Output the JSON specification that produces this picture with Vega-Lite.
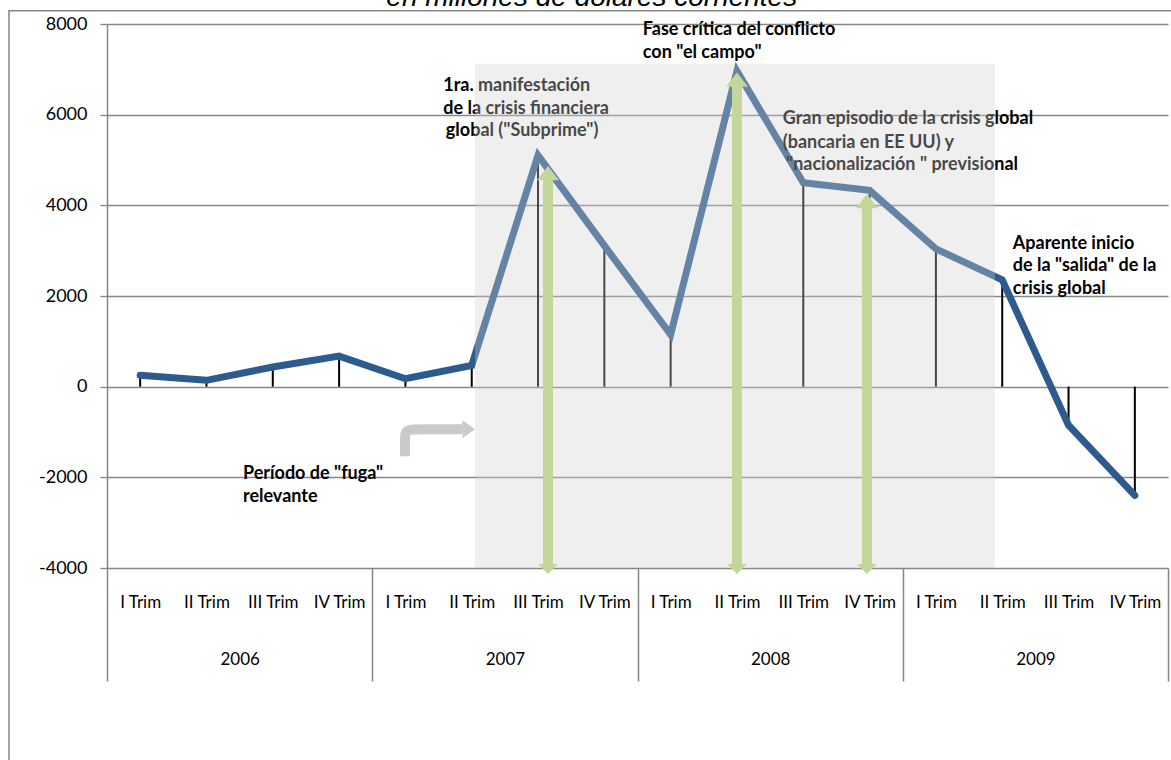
{
  "$schema": "https://vega.github.io/schema/vega-lite/v6.json",
  "width": 1061,
  "height": 544,
  "autosize": {"type": "none"},
  "padding": {"left": 107, "top": 24, "right": 3, "bottom": 192},
  "background": "white",
  "config": {
    "view": {"stroke": null},
    "font": "Lato",
    "axis": {
      "labelFont": "Lato",
      "labelColor": "black",
      "gridColor": "#868686",
      "domainColor": "#868686",
      "tickColor": "#868686"
    },
    "axisY": {
      "grid": true,
      "gridWidth": 1.3,
      "domainWidth": 1.5,
      "tickSize": 7,
      "tickWidth": 1.3,
      "labelPadding": 13,
      "labelFontSize": 18,
      "tickCount": 6
    }
  },
  "datasets": {
    "serie": [
      {"i": 0, "anio": 2006, "trimestre": "I Trim", "valor": 250},
      {"i": 1, "anio": 2006, "trimestre": "II Trim", "valor": 140},
      {"i": 2, "anio": 2006, "trimestre": "III Trim", "valor": 435},
      {"i": 3, "anio": 2006, "trimestre": "IV Trim", "valor": 675},
      {"i": 4, "anio": 2007, "trimestre": "I Trim", "valor": 175},
      {"i": 5, "anio": 2007, "trimestre": "II Trim", "valor": 470},
      {"i": 6, "anio": 2007, "trimestre": "III Trim", "valor": 5100},
      {"i": 7, "anio": 2007, "trimestre": "IV Trim", "valor": 3110},
      {"i": 8, "anio": 2008, "trimestre": "I Trim", "valor": 1150},
      {"i": 9, "anio": 2008, "trimestre": "II Trim", "valor": 6960},
      {"i": 10, "anio": 2008, "trimestre": "III Trim", "valor": 4500},
      {"i": 11, "anio": 2008, "trimestre": "IV Trim", "valor": 4330},
      {"i": 12, "anio": 2009, "trimestre": "I Trim", "valor": 3040},
      {"i": 13, "anio": 2009, "trimestre": "II Trim", "valor": 2355},
      {"i": 14, "anio": 2009, "trimestre": "III Trim", "valor": -850},
      {"i": 15, "anio": 2009, "trimestre": "IV Trim", "valor": -2400}
    ],
    "titulo": [
      {"texto": "en millones de dólares corrientes", "i": 6.81, "valor": 8404}
    ],
    "notas": [
      {"texto": "1ra.  manifestación", "i": 4.57, "valor": 6626},
      {"texto": "de la crisis  financiera", "i": 4.57, "valor": 6134},
      {"texto": "global (\"Subprime\")", "i": 4.61, "valor": 5649},
      {"texto": "Fase crítica del  conflicto", "i": 7.58, "valor": 7875},
      {"texto": "con  \"el campo\"", "i": 7.58, "valor": 7361},
      {"texto": "Gran episodio de la crisis global", "i": 9.69, "valor": 5907},
      {"texto": "(bancaria en EE UU)  y", "i": 9.69, "valor": 5378},
      {"texto": "\"nacionalización \" previsional", "i": 9.74, "valor": 4884},
      {"texto": "Aparente inicio", "i": 13.16, "valor": 3158},
      {"texto": "de la \"salida\" de la", "i": 13.16, "valor": 2658},
      {"texto": "crisis global", "i": 13.16, "valor": 2160},
      {"texto": "Período de \"fuga\"", "i": 1.55, "valor": -1933},
      {"texto": "relevante", "i": 1.55, "valor": -2425}
    ],
    "zona": [
      {"desde": 5.05, "hasta": 12.89, "tope": 7125, "base": -4000}
    ],
    "flechas": [
      {"i": 6.15, "base": -4000, "punta": 4700},
      {"i": 9.0, "base": -4000, "punta": 6760},
      {"i": 10.96, "base": -4000, "punta": 4080}
    ],
    "fuga": [
      {"orden": 1, "i": 3.994, "valor": -1536},
      {"orden": 2, "i": 3.994, "valor": -1162},
      {"orden": 3, "i": 3.994, "valor": -941},
      {"orden": 4, "i": 4.22, "valor": -941},
      {"orden": 5, "i": 4.86, "valor": -941}
    ],
    "fuga_punta": [
      {"i": 4.955, "valor": -941}
    ],
    "marco": [
      {"desde": -1.978, "hasta": 16.5, "tope": 8295, "base": -9000}
    ]
  },
  "resolve": {"scale": {"x": "independent"}},
  "layer": [
    {
      "data": {"name": "serie"},
      "mark": {"type": "rule", "color": "black", "strokeWidth": 2},
      "encoding": {
        "x": {
          "field": "i", "type": "quantitative",
          "scale": {"domain": [-0.5, 15.5], "nice": false, "zero": false},
          "axis": {
            "orient": "bottom",
            "title": null,
            "values": [0, 1, 2, 3, 4, 5, 6, 7, 8, 9, 10, 11, 12, 13, 14, 15],
            "labelExpr": "['I Trim', 'II Trim', 'III Trim', 'IV Trim'][datum.value % 4]",
            "ticks": false,
            "domain": false,
            "grid": false,
            "labelPadding": 34,
            "labelBaseline": "middle",
            "labelFontSize": 17,
            "labelFlush": false,
            "labelOverlap": false,
            "labelBound": false
          }
        },
        "y": {
          "field": "valor", "type": "quantitative",
          "scale": {"domain": [-4000, 8000], "nice": false, "zero": false},
          "axis": {"title": null, "labelExpr": "toString(datum.value)"}
        },
        "y2": {"datum": 0}
      }
    },
    {
      "data": {"name": "serie"},
      "mark": {"type": "line", "color": "#2E5B8E", "strokeWidth": 7, "strokeCap": "round", "strokeJoin": "miter"},
      "encoding": {
        "x": {
          "field": "i", "type": "quantitative",
          "scale": {"domain": [-0.5, 15.5], "nice": false, "zero": false},
          "axis": {
            "orient": "bottom",
            "title": null,
            "values": [-0.5, 3.5, 7.5, 11.5, 15.5],
            "labels": false,
            "ticks": true,
            "tickSize": 113,
            "tickWidth": 1.5,
            "domain": false,
            "grid": false
          }
        },
        "y": {
          "field": "valor", "type": "quantitative",
          "scale": {"domain": [-4000, 8000], "nice": false, "zero": false},
          "axis": {"title": null, "labelExpr": "toString(datum.value)"}
        }
      }
    },
    {
      "data": {"name": "notas"},
      "mark": {"type": "text", "align": "left", "baseline": "middle", "font": "Lato", "fontWeight": "bold", "fontSize": 18, "color": "black"},
      "encoding": {
        "x": {
          "field": "i", "type": "quantitative",
          "scale": {"domain": [-0.5, 15.5], "nice": false, "zero": false},
          "axis": {
            "orient": "bottom",
            "title": null,
            "values": [1.5, 5.5, 9.5, 13.5],
            "labelExpr": "toString(2006 + floor(datum.value / 4))",
            "ticks": false,
            "domain": false,
            "grid": false,
            "labelPadding": 91,
            "labelBaseline": "middle",
            "labelFontSize": 17,
            "labelFlush": false,
            "labelOverlap": false
          }
        },
        "y": {
          "field": "valor", "type": "quantitative",
          "scale": {"domain": [-4000, 8000], "nice": false, "zero": false},
          "axis": {"title": null, "labelExpr": "toString(datum.value)"}
        },
        "text": {"field": "texto"}
      }
    },
    {
      "data": {"name": "zona"},
      "mark": {"type": "rect", "color": "#cfcfcf", "opacity": 0.34},
      "encoding": {
        "x": {"field": "desde", "type": "quantitative", "scale": {"domain": [-0.5, 15.5], "nice": false, "zero": false}, "axis": null},
        "x2": {"field": "hasta"},
        "y": {"field": "tope", "type": "quantitative", "scale": {"domain": [-4000, 8000], "nice": false, "zero": false}, "axis": {"title": null, "labelExpr": "toString(datum.value)"}},
        "y2": {"field": "base"}
      }
    },
    {
      "data": {"name": "flechas"},
      "mark": {"type": "rule", "color": "#C4D79B", "strokeWidth": 10},
      "encoding": {
        "x": {"field": "i", "type": "quantitative", "scale": {"domain": [-0.5, 15.5], "nice": false, "zero": false}, "axis": null},
        "y": {"field": "base", "type": "quantitative", "scale": {"domain": [-4000, 8000], "nice": false, "zero": false}, "axis": {"title": null, "labelExpr": "toString(datum.value)"}},
        "y2": {"field": "punta"}
      }
    },
    {
      "data": {"name": "flechas"},
      "mark": {"type": "point", "shape": "M-1,0.6L1,0.6L0,-0.7Z", "filled": true, "size": 484, "color": "#C4D79B", "opacity": 1},
      "encoding": {
        "x": {"field": "i", "type": "quantitative", "scale": {"domain": [-0.5, 15.5], "nice": false, "zero": false}, "axis": null},
        "y": {"field": "punta", "type": "quantitative", "scale": {"domain": [-4000, 8000], "nice": false, "zero": false}, "axis": {"title": null, "labelExpr": "toString(datum.value)"}}
      }
    },
    {
      "data": {"name": "flechas"},
      "mark": {"type": "point", "shape": "M-1,-0.4L1,-0.4L0,0.6Z", "filled": true, "size": 400, "color": "#C4D79B", "opacity": 1},
      "encoding": {
        "x": {"field": "i", "type": "quantitative", "scale": {"domain": [-0.5, 15.5], "nice": false, "zero": false}, "axis": null},
        "y": {"field": "base", "type": "quantitative", "scale": {"domain": [-4000, 8000], "nice": false, "zero": false}, "axis": {"title": null, "labelExpr": "toString(datum.value)"}}
      }
    },
    {
      "data": {"name": "fuga"},
      "mark": {"type": "line", "color": "#CACACA", "strokeWidth": 10, "interpolate": "basis", "strokeCap": "butt"},
      "encoding": {
        "x": {"field": "i", "type": "quantitative", "scale": {"domain": [-0.5, 15.5], "nice": false, "zero": false}, "axis": null},
        "y": {"field": "valor", "type": "quantitative", "scale": {"domain": [-4000, 8000], "nice": false, "zero": false}, "axis": {"title": null, "labelExpr": "toString(datum.value)"}},
        "order": {"field": "orden"}
      }
    },
    {
      "data": {"name": "fuga_punta"},
      "mark": {"type": "point", "shape": "M-0.7,-1L0.7,0L-0.7,1Z", "filled": true, "size": 324, "color": "#CACACA", "opacity": 1},
      "encoding": {
        "x": {"field": "i", "type": "quantitative", "scale": {"domain": [-0.5, 15.5], "nice": false, "zero": false}, "axis": null},
        "y": {"field": "valor", "type": "quantitative", "scale": {"domain": [-4000, 8000], "nice": false, "zero": false}, "axis": {"title": null, "labelExpr": "toString(datum.value)"}}
      }
    },
    {
      "data": {"name": "titulo"},
      "mark": {"type": "text", "align": "center", "baseline": "alphabetic", "font": "Liberation Sans", "fontStyle": "italic", "fontSize": 28, "color": "black"},
      "encoding": {
        "x": {"field": "i", "type": "quantitative", "scale": {"domain": [-0.5, 15.5], "nice": false, "zero": false}, "axis": null},
        "y": {"field": "valor", "type": "quantitative", "scale": {"domain": [-4000, 8000], "nice": false, "zero": false}, "axis": {"title": null, "labelExpr": "toString(datum.value)"}},
        "text": {"field": "texto"}
      }
    },
    {
      "data": {"name": "marco"},
      "mark": {"type": "rect", "fillOpacity": 0, "stroke": "#868686", "strokeWidth": 1.5},
      "encoding": {
        "x": {"field": "desde", "type": "quantitative", "scale": {"domain": [-0.5, 15.5], "nice": false, "zero": false}, "axis": null},
        "x2": {"field": "hasta"},
        "y": {"field": "tope", "type": "quantitative", "scale": {"domain": [-4000, 8000], "nice": false, "zero": false}, "axis": {"title": null, "labelExpr": "toString(datum.value)"}},
        "y2": {"field": "base"}
      }
    }
  ]
}
